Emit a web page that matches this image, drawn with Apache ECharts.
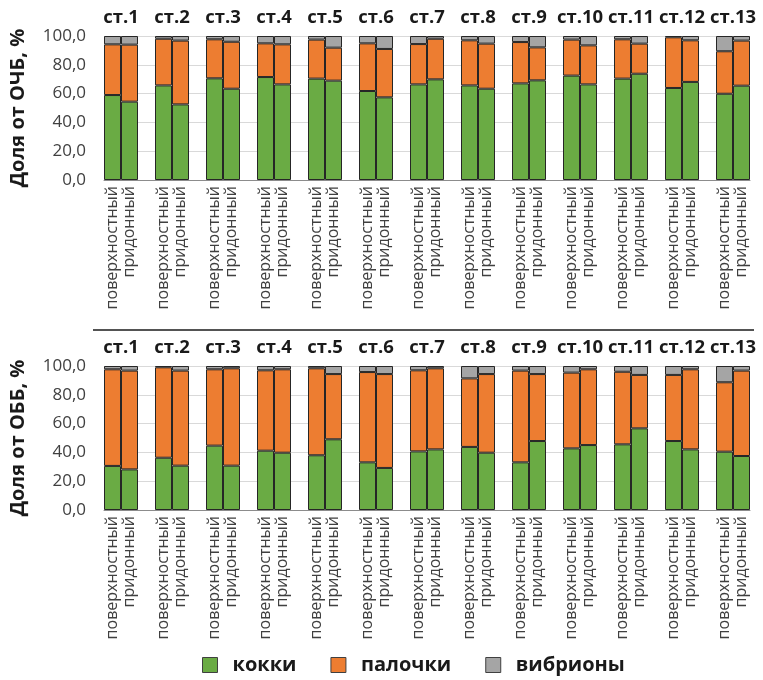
<!DOCTYPE html>
<html>
<head>
<meta charset="utf-8">
<script src="https://cdn.jsdelivr.net/npm/echarts@6/dist/echarts.min.js"></script>
<style>
  html, body { margin: 0; padding: 0; background: #ffffff; }
  #chart { width: 763px; height: 680px; }
</style>
</head>
<body>
<div id="chart"></div>
<script>
// Stations and sampling layers
const stations = ['ст.1', 'ст.2', 'ст.3', 'ст.4', 'ст.5', 'ст.6', 'ст.7',
                  'ст.8', 'ст.9', 'ст.10', 'ст.11', 'ст.12', 'ст.13'];
const layers = ['поверхностный', 'придонный'];
const yTicks = [0, 20, 40, 60, 80, 100];
const seriesNames = ['кокки', 'палочки', 'вибрионы'];

// Share of total bacteria count (ОЧБ), %: pairs = surface, bottom per station
const ochbKokki = [59.0, 54.4, 65.7, 52.5, 70.6, 63.4, 71.5, 66.4, 70.4, 69.0, 61.8, 57.4, 66.4,
                   69.9, 65.7, 63.4, 67.1, 69.2, 72.5, 66.4, 70.4, 73.8, 63.9, 68.1, 59.9, 65.5];
const ochbPalochki = [35.2, 39.6, 32.4, 44.3, 27.1, 32.6, 23.4, 27.8, 27.1, 22.9, 33.1, 33.6, 28.0,
                      28.2, 31.3, 31.3, 28.7, 22.9, 25.0, 27.1, 27.3, 20.9, 35.2, 28.9, 29.5, 31.3];
const ochbVibriony = [5.8, 6.0, 1.9, 3.2, 2.3, 4.0, 5.1, 5.8, 2.5, 8.1, 5.1, 9.0, 5.6,
                      1.9, 3.0, 5.3, 4.2, 7.9, 2.5, 6.5, 2.3, 5.3, 0.9, 3.0, 10.6, 3.2];

// Share of total bacterial biomass (ОББ), %
const obbKokki = [30.6, 28.2, 36.3, 30.8, 44.7, 30.8, 41.2, 39.8, 38.0, 49.1, 33.1, 29.2, 40.7,
                  42.1, 43.8, 39.8, 33.1, 47.9, 42.8, 45.1, 45.6, 56.7, 47.9, 42.1, 40.5, 37.5];
const obbPalochki = [67.1, 68.6, 62.8, 66.0, 53.0, 67.6, 55.8, 57.9, 60.4, 45.3, 62.7, 65.2, 56.3,
                     56.3, 47.6, 54.6, 63.7, 46.5, 52.6, 52.6, 50.4, 37.1, 45.9, 55.6, 48.2, 59.3];
const obbVibriony = [2.3, 3.2, 0.9, 3.2, 2.3, 1.6, 3.0, 2.3, 1.6, 5.6, 4.2, 5.6, 3.0,
                     1.6, 8.6, 5.6, 3.2, 5.6, 4.6, 2.3, 4.0, 6.2, 6.2, 2.3, 11.3, 3.2];

const colors = ['#6AAB44', '#ED7D31', '#A5A5A5'];

// Lay the pairs out on a category axis with an empty slot between stations
function toSlots(values) {
  const out = [];
  stations.forEach((s, i) => {
    if (i > 0) out.push('-');
    out.push(values[2 * i], values[2 * i + 1]);
  });
  return out;
}
const layerCats = [];
const stationCats = [];
stations.forEach((s, i) => {
  if (i > 0) { layerCats.push(''); stationCats.push(''); }
  layerCats.push(layers[0], layers[1]);
  stationCats.push(s, '');
});

const fmt = v => v.toFixed(1).replace('.', ',');
const grids = [
  { left: 100, right: 13, top: 36, height: 144 },
  { left: 100, right: 13, top: 366, height: 144 }
];
const yNames = ['Доля от ОЧБ, %', 'Доля от ОББ, %'];
const panels = [
  [ochbKokki, ochbPalochki, ochbVibriony],
  [obbKokki, obbPalochki, obbVibriony]
];

const xAxes = [], yAxes = [], series = [];
grids.forEach((g, gi) => {
  xAxes.push({
    type: 'category', gridIndex: gi, data: layerCats, position: 'bottom',
    axisLine: { show: true, lineStyle: { color: '#8c8c8c', width: 1 } },
    axisTick: { show: false },
    axisLabel: { interval: 0, rotate: 90, margin: 6, fontFamily: 'Open Sans',
                 fontSize: 16, color: '#404040' }
  });
  xAxes.push({
    type: 'category', gridIndex: gi, data: stationCats, position: 'top',
    axisLine: { show: false }, axisTick: { show: false },
    axisLabel: { interval: 0, margin: 9, padding: [0, 0, 0, 17], fontFamily: 'Open Sans',
                 fontSize: 18.5, fontWeight: 'bold', color: '#1a1a1a' }
  });
  yAxes.push({
    type: 'value', gridIndex: gi, min: yTicks[0], max: yTicks[yTicks.length - 1],
    interval: yTicks[1] - yTicks[0],
    name: yNames[gi], nameLocation: 'middle', nameGap: 76, nameRotate: 90,
    nameTextStyle: { fontFamily: 'Open Sans', fontSize: 20, fontWeight: 'bold', color: '#1a1a1a' },
    axisLine: { show: false }, axisTick: { show: false },
    axisLabel: { formatter: fmt, margin: 18, fontFamily: 'Open Sans', fontSize: 17, color: '#404040' },
    splitLine: { lineStyle: { color: '#d9d9d9', width: 1 } }
  });
  panels[gi].forEach((vals, si) => {
    series.push({
      type: 'bar', name: seriesNames[si], stack: 'p' + gi,
      xAxisIndex: gi * 2, yAxisIndex: gi,
      barCategoryGap: 0, data: toSlots(vals),
      itemStyle: { color: colors[si], borderColor: '#262626', borderWidth: 1 }
    });
  });
});

const chart = echarts.init(document.getElementById('chart'), null, { renderer: 'canvas' });
chart.setOption({
  animation: false,
  backgroundColor: '#ffffff',
  grid: grids,
  xAxis: xAxes,
  yAxis: yAxes,
  series: series,
  legend: {
    data: seriesNames, left: 197, top: 650, itemWidth: 15, itemHeight: 15, itemGap: 34,
    icon: 'rect',
    itemStyle: { borderColor: '#404040', borderWidth: 1 },
    textStyle: { fontFamily: 'Open Sans', fontSize: 20, fontWeight: 'bold', color: '#1a1a1a',
                 padding: [0, 0, 0, 10] }
  },
  graphic: [{
    type: 'line', shape: { x1: 93, y1: 330, x2: 754, y2: 330 },
    style: { stroke: '#1a1a1a', lineWidth: 1.5 }
  }]
});
</script>
</body>
</html>
